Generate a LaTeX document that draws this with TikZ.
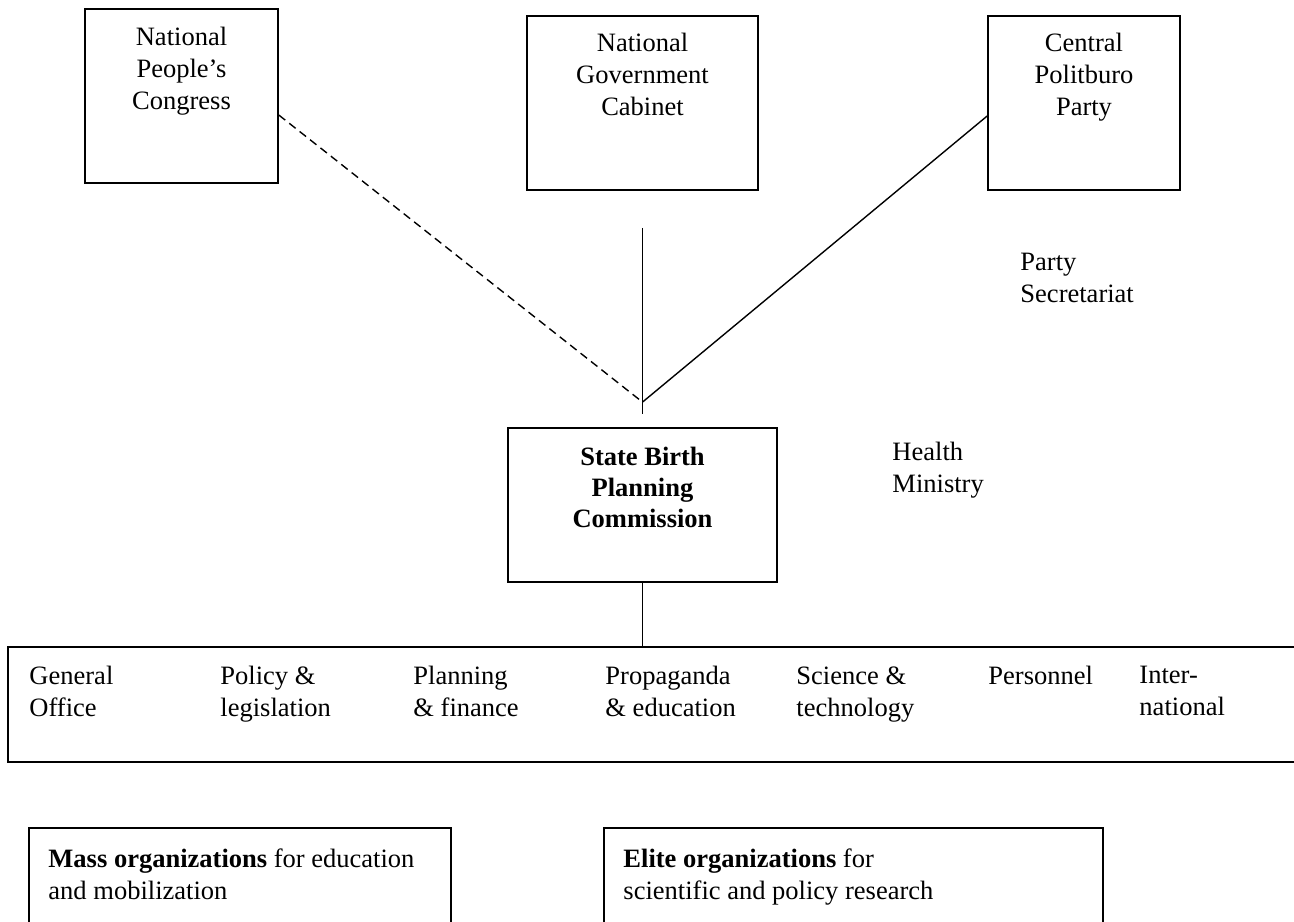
\documentclass[tikz,border=0pt]{standalone}
\usepackage{fontspec}
\setmainfont{Liberation Serif}
\usetikzlibrary{positioning}

\tikzset{
  orgbox/.style={draw, line width=0.7pt, inner sep=0pt},
  boxtext/.style={inner sep=0pt, align=center, font=\fontsize{11.4pt}{13.8pt}\selectfont},
  plaintext/.style={inner sep=0pt, align=left, anchor=north west, font=\fontsize{11.4pt}{13.8pt}\selectfont},
  link/.style={line width=0.6pt}
}

\begin{document}
\begin{tikzpicture}[x=0.43pt, y=-0.43pt]
        \useasboundingbox (0,0) rectangle (1294,922);

        % top row
        \node[orgbox, minimum width=83pt, minimum height=74.8pt] (npc) at (181.5,96) {};
        \node[orgbox, minimum width=99.3pt, minimum height=74.8pt] (cabinet) at (642.5,103) {};
        \node[orgbox, minimum width=82.6pt, minimum height=74.8pt] (politburo) at (1084,103) {};
        \node[boxtext, below=8pt of npc.north] (npctext) {National\\People's\\Congress};
        \node[boxtext, below=7.6pt of cabinet.north] (cabinettext) {National\\Government\\Cabinet};
        \node[boxtext, below=7.6pt of politburo.north] (politburotext) {Central\\Politburo\\Party};
        \node[plaintext] (secretariat) at (1020,253) {Party\\Secretariat};

        % commission
        \node[orgbox, minimum width=115.7pt, minimum height=66.2pt] (sbpc) at (642.5,505) {};
        \node[boxtext, font=\fontsize{11.4pt}{13.3pt}\selectfont\bfseries, below=8.5pt of sbpc.north] (sbpctext) {State Birth\\Planning\\Commission};
        \node[plaintext] (health) at (892,442) {Health\\Ministry};
        \coordinate[above=10.8pt of sbpc.north] (v);

        \draw[link, dash pattern=on 3.5pt off 2.2pt] ([yshift=-8.2pt]npc.east) -- (v);
        \draw[link] ([yshift=-15.9pt]cabinet.south) -- ([yshift=5.6pt]sbpc.north);
        \draw[link] ([yshift=-5.6pt]politburo.west) -- (v);

        % departments
        \node[orgbox, minimum width=560pt, minimum height=49.5pt] (depts) at (659,704.5) {};
        \draw[link] (sbpc.south) -- (sbpc.south |- depts.north);
        \foreach \x/\t [count=\i] in {29/{General\\Office}, 220/{Policy \&\\legislation},
            413/{Planning\\\& finance}, 605/{Propaganda\\\& education},
            796/{Science \&\\technology}, 988/{Personnel}, 1139/{Inter-\\national}}
          \node[plaintext] (dept\i) at (\x,666) {\t};

        % organizations
        \node[orgbox, minimum width=181.5pt, minimum height=48.2pt] (mass) at (240,884) {};
        \node[orgbox, minimum width=214.6pt, minimum height=48.2pt] (elite) at (853.5,884) {};
        \node[plaintext] (masstext) at (48,848) {\textbf{Mass organizations} for education\\and mobilization};
        \node[plaintext] (elitetext) at (623,848) {\textbf{Elite organizations} for\\scientific and policy research};
\end{tikzpicture}
\end{document}
